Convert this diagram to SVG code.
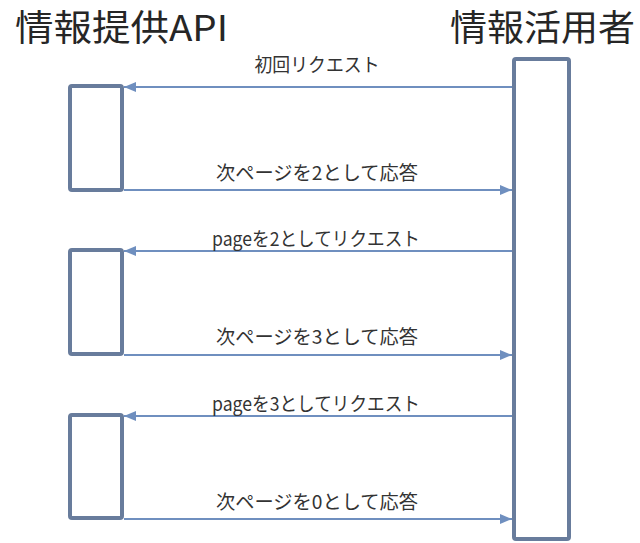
<svg xmlns="http://www.w3.org/2000/svg" width="640" height="543" viewBox="0 0 640 543">
<style>
.title{font-family:"Noto Sans CJK JP","Noto Sans",sans-serif;font-size:36px;fill:#262626}
.lbl{font-family:"Noto Sans CJK JP","Noto Sans",sans-serif;font-size:19px;fill:#333333;text-anchor:middle}
.box{fill:#ffffff;stroke:#687c9c;stroke-width:4;stroke-linejoin:round}
.msg{stroke:#6f8fbf;stroke-width:2;fill:none}
</style>
<defs>
<marker id="ah" viewBox="0 0 12 10" refX="12" refY="5" markerWidth="12" markerHeight="10" markerUnits="userSpaceOnUse" orient="auto">
<path d="M0,0 L12,5 L0,10 Z" fill="#6f8fbf"/>
</marker>
</defs>
<rect width="640" height="543" fill="#ffffff"/>
<g id="title-api"><text class="title" x="15" y="41" textLength="213" lengthAdjust="spacingAndGlyphs">情報提供API</text></g>
<g id="title-user"><text class="title" x="450" y="41" textLength="185" lengthAdjust="spacingAndGlyphs">情報活用者</text></g>
<g id="user-lifeline"><rect class="box" x="514" y="59" width="55" height="480" rx="2"/></g>
<g id="api-act1"><rect class="box" x="70" y="86" width="52" height="104" rx="2"/></g>
<g id="api-act2"><rect class="box" x="70" y="250" width="52" height="104" rx="2"/></g>
<g id="api-act3"><rect class="box" x="70" y="415" width="52" height="103" rx="2"/></g>
<g id="connectors">
<line class="msg" x1="512" y1="87" x2="124" y2="87" marker-end="url(#ah)"/>
<line class="msg" x1="124" y1="190" x2="512" y2="190" marker-end="url(#ah)"/>
<line class="msg" x1="512" y1="251" x2="124" y2="251" marker-end="url(#ah)"/>
<line class="msg" x1="124" y1="355" x2="512" y2="355" marker-end="url(#ah)"/>
<line class="msg" x1="512" y1="416" x2="124" y2="416" marker-end="url(#ah)"/>
<line class="msg" x1="124" y1="519" x2="512" y2="519" marker-end="url(#ah)"/>
<text class="lbl" x="317" y="72" textLength="125" lengthAdjust="spacingAndGlyphs">初回リクエスト</text>
<text class="lbl" x="317" y="180" textLength="202" lengthAdjust="spacingAndGlyphs">次ページを2として応答</text>
<text class="lbl" x="316" y="246" textLength="208" lengthAdjust="spacingAndGlyphs">pageを2としてリクエスト</text>
<text class="lbl" x="317" y="344" textLength="202" lengthAdjust="spacingAndGlyphs">次ページを3として応答</text>
<text class="lbl" x="316" y="411" textLength="208" lengthAdjust="spacingAndGlyphs">pageを3としてリクエスト</text>
<text class="lbl" x="317" y="509" textLength="202" lengthAdjust="spacingAndGlyphs">次ページを0として応答</text>
</g>
</svg>
